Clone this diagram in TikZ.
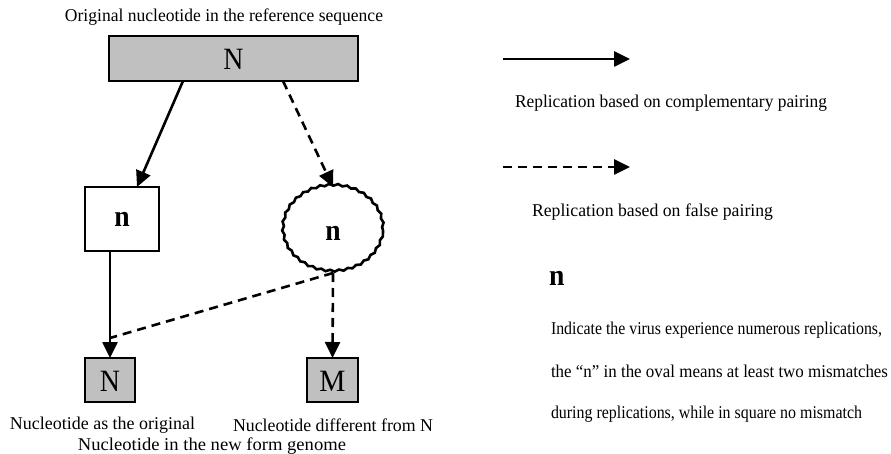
\documentclass[tikz,border=0pt]{standalone}
\usepackage{fontspec}
\setmainfont{Liberation Serif}
\usetikzlibrary{arrows.meta,shapes.geometric,decorations.pathmorphing,calc}
\newcommand{\sqz}[2][0.9]{\scalebox{#1}[1]{#2}}
\newcommand{\fitw}[2]{\resizebox{#1}{\height}{#2}}
\definecolor{boxgray}{RGB}{192,192,192}
\begin{document}
\begin{tikzpicture}[x=1pt,y=-1pt,
  every node/.style={inner sep=0pt,outer sep=0pt},
  txt/.style={font=\fontsize{18}{20}\selectfont},
  bigletter/.style={font=\fontsize{31}{33}\selectfont},
  boldn/.style={font=\fontsize{30}{32}\selectfont\bfseries},
  graybox/.style={draw,line width=2.6pt,fill=boxgray},
  whitebox/.style={draw,line width=2.6pt,fill=white},
  conn/.style={line width=2.6pt,-{Triangle[length=16pt,width=15pt]}},
  dconn/.style={conn,dash pattern=on 9pt off 6pt},
  dline/.style={line width=2.6pt,dash pattern=on 9pt off 6pt}]
\useasboundingbox (0,0) rectangle (891,454);

\node[txt] (title) at (224,17) {\fitw{318pt}{Original nucleotide in the reference sequence}};
\node[graybox,minimum width=249pt,minimum height=45pt] (top) at (233.5,58.5) {};
\node[bigletter] (topN) at (233.5,59) {\sqz{N}};

\node[whitebox,minimum width=74pt,minimum height=64pt] (nbox) at (122,219) {};
\node[boldn] (boxn) at (122,219) {\sqz[0.92]{n}};
\node[draw,line width=2.6pt,ellipse,minimum width=100pt,minimum height=86pt,
      decorate,decoration={snake,segment length=9pt,amplitude=0.9pt}] (oval) at (333,230) {};
\node[boldn] (ovaln) at (333,233) {\sqz[0.92]{n}};

\node[graybox,minimum width=50pt,minimum height=44pt] (N2) at (110,380) {};
\node[bigletter] (N2t) at (110,381) {\sqz{N}};
\node[graybox,minimum width=51pt,minimum height=44pt] (M) at (332.5,380) {};
\node[bigletter] (Mt) at (332.5,381) {\sqz[0.95]{M}};

\node[txt] (lab1) at (102.5,425) {\fitw{185pt}{Nucleotide as the original}};
\node[txt] (lab2) at (333,425) {\fitw{200pt}{Nucleotide different from N}};
\node[txt] (lab3) at (212,446) {\fitw{268pt}{Nucleotide in the new form genome}};

% connectors
\draw[conn] ([xshift=-50.5pt]top.south) -- ([xshift=15pt]nbox.north);
\draw[dconn] ([xshift=49.5pt]top.south) -- (oval.north);
\draw[conn] (N2.north |- nbox.south) -- (N2.north);
\coordinate (join) at ($(N2.north)+(0,-20)$);
\draw[dline] (oval.south) -- (join);
\draw[dconn] (oval.south) -- (M.north);

% legend
\coordinate (l1s) at (503,59);
\coordinate (l1e) at (630,59);
\draw[conn] (l1s) -- (l1e);
\node[txt,anchor=west] (leg1) at (515,103) {\fitw{312pt}{Replication based on complementary pairing}};
\coordinate (l2s) at (503,167);
\coordinate (l2e) at (630,167);
\draw[dconn] (l2s) -- (l2e);
\node[txt,anchor=west] (leg2) at (532,212) {\fitw{241pt}{Replication based on false pairing}};

\node[boldn,anchor=west] (legn) at (549,278) {\sqz[0.92]{n}};
\node[txt,anchor=west] (d1) at (551,330) {\fitw{331pt}{Indicate the virus experience numerous replications,}};
\node[txt,anchor=west] (d2) at (551,371) {\fitw{337pt}{the “n” in the oval means at least two mismatches}};
\node[txt,anchor=west] (d3) at (551,414) {\fitw{311pt}{during replications, while in square no mismatch}};
\end{tikzpicture}
\end{document}
